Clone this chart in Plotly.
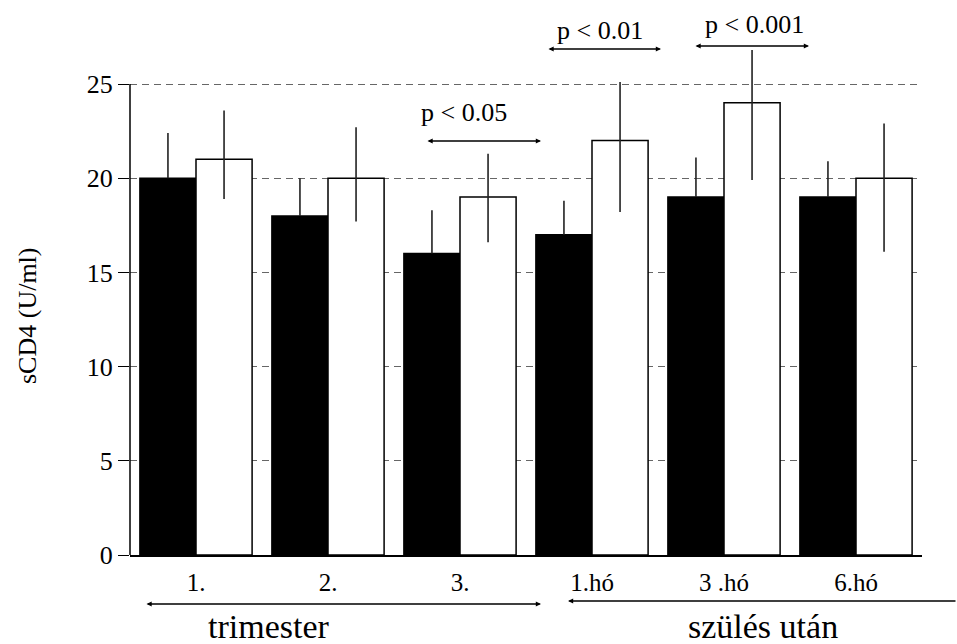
import plotly.graph_objects as go

categories = ["1.", "2.", "3.", "1.hó", "3 .hó", "6.hó"]
black_values = [20, 18, 16, 17, 19, 19]
black_err = [2.4, 2.0, 2.3, 1.8, 2.1, 1.9]
white_values = [21, 20, 19, 22, 24, 20]
white_err_plus = [2.6, 2.7, 2.3, 3.1, 2.8, 2.9]
white_err_minus = [2.1, 2.3, 2.4, 3.8, 4.1, 3.9]
y_ticks = [0, 5, 10, 15, 20, 25]
p_labels = ["p < 0.05", "p < 0.01", "p < 0.001"]
group_labels = ["trimester", "szülés után"]

W, H = 957, 644
L, R, T, B = 130, 922, 10, 555
Y25_PX = 84
ymax = 25 * (B - T) / (B - Y25_PX)

FONT = "Liberation Serif, Times New Roman, serif"


def px_x(px):
    return (px - L) / (R - L)


def px_y(py):
    return (B - py) / (B - T)


def hline_arrow(fig, x0, x1, y, both=True):
    # arrow head at x1, tail at x0 (pixel offsets)
    fig.add_annotation(xref="paper", yref="paper", x=px_x(x1), y=px_y(y),
                       axref="pixel", ayref="pixel", ax=x0 - x1, ay=0,
                       text="", showarrow=True, arrowhead=2,
                       arrowside="end+start" if both else "end",
                       arrowsize=0.8, arrowwidth=1.3, arrowcolor="black",
                       standoff=0, startstandoff=0)


fig = go.Figure()
fig.add_trace(go.Bar(
    x=categories, y=black_values,
    marker=dict(color="black", line=dict(color="black", width=1.5)),
    error_y=dict(type="data", array=black_err, arrayminus=[0] * len(black_err),
                 symmetric=False, color="#222", thickness=1.6, width=0),
    showlegend=False,
))
fig.add_trace(go.Bar(
    x=categories, y=white_values,
    marker=dict(color="white", line=dict(color="black", width=1.5)),
    error_y=dict(type="data", array=white_err_plus, arrayminus=white_err_minus,
                 symmetric=False, color="#222", thickness=1.6, width=0),
    showlegend=False,
))

fig.update_layout(
    width=W, height=H,
    margin=dict(l=L, r=W - R, t=T, b=H - B),
    paper_bgcolor="white", plot_bgcolor="white",
    barmode="group", bargap=0.15, bargroupgap=0,
    font=dict(family=FONT, color="black", size=25),
)
fig.update_xaxes(
    showline=True, linecolor="black", linewidth=1.5,
    ticks="", showgrid=False, tickfont=dict(size=25, family=FONT),
    ticklabelstandoff=4,
)
fig.update_yaxes(
    range=[0, ymax], tickvals=y_ticks, ticks="outside", ticklen=11,
    tickcolor="black", tickwidth=1, showline=False, zeroline=False,
    showgrid=True, gridcolor="#666", griddash="7px,5px", gridwidth=1,
    tickfont=dict(size=26, family=FONT),
)

# y axis line only up to 25
fig.add_shape(type="line", xref="paper", yref="y", x0=0, x1=0, y0=0, y1=25,
              line=dict(color="black", width=1.5))

# y title
fig.add_annotation(text="sCD4 (U/ml)", textangle=-90, xref="paper", yref="paper",
                   x=px_x(28), y=px_y(316), showarrow=False,
                   font=dict(size=26, family=FONT), xanchor="center", yanchor="middle")

# p-value annotations: (text center x, text center y, arrow x0, arrow x1, arrow y)
p_geo = [(464, 113, 426, 541, 141), (600, 31, 547, 661, 49), (754, 24, 694, 809, 46)]
for lab, (tx, ty, ax0, ax1, ay) in zip(p_labels, p_geo):
    fig.add_annotation(text=lab, xref="paper", yref="paper", x=px_x(tx), y=px_y(ty),
                       showarrow=False, font=dict(size=26, family=FONT),
                       xanchor="center", yanchor="middle")
    hline_arrow(fig, ax0, ax1, ay)

# bottom group arrows
hline_arrow(fig, 145, 541, 604)
hline_arrow(fig, 965, 568, 601, both=False)

fig.add_annotation(text=group_labels[0], xref="paper", yref="paper",
                   x=px_x(269), y=px_y(626), showarrow=False,
                   font=dict(size=34, family=FONT), xanchor="center", yanchor="middle")
fig.add_annotation(text=group_labels[1], xref="paper", yref="paper",
                   x=px_x(763), y=px_y(626), showarrow=False,
                   font=dict(size=34, family=FONT), xanchor="center", yanchor="middle")

fig.write_html("out.html", config={"displayModeBar": False},
               post_script="document.body.style.margin='0px';document.body.style.overflow='hidden';")
